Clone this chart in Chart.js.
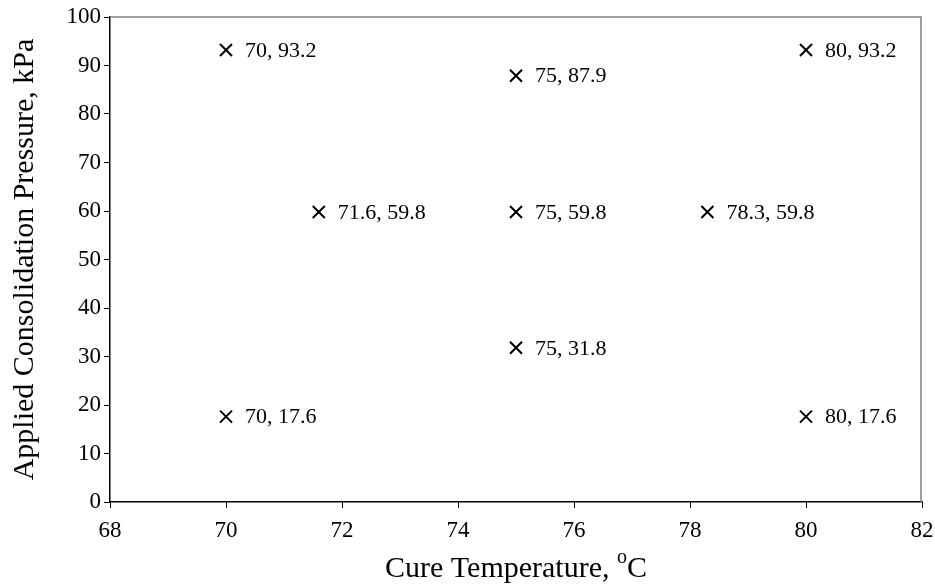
<!DOCTYPE html>
<html>
<head>
<meta charset="utf-8">
<script src="https://cdn.jsdelivr.net/npm/chart.js@4"></script>
<style>
  html, body { margin: 0; padding: 0; background: #fff; }
  #wrap { width: 935px; height: 586px; }
</style>
</head>
<body>
<div id="wrap"><canvas id="chart-canvas" width="935" height="586"></canvas></div>
<script>
// cure trials: temperature (°C) and consolidation pressure (kPa)
const cureTemps = [70, 75, 80, 71.6, 75, 78.3, 75, 70, 80];
const pressures = [93.2, 87.9, 93.2, 59.8, 59.8, 59.8, 31.8, 17.6, 17.6];
const xTicks = [68, 70, 72, 74, 76, 78, 80, 82];
const yTicks = [0, 10, 20, 30, 40, 50, 60, 70, 80, 90, 100];

const serif = "'Liberation Serif', 'Times New Roman', serif";

const points = cureTemps.map((t, i) => ({ x: t, y: pressures[i] }));

// gray frame along top and right of plot area
const frame = {
  id: "frame",
  beforeDatasetsDraw(chart) {
    const { ctx, chartArea: a } = chart;
    ctx.save();
    ctx.strokeStyle = "#808080";
    ctx.lineWidth = 1.5;
    ctx.beginPath();
    ctx.moveTo(a.left, a.top);
    ctx.lineTo(a.right - 1, a.top);
    ctx.lineTo(a.right - 1, a.bottom);
    ctx.stroke();
    ctx.restore();
  }
};

// "x, y" label to the right of each marker
const pointLabels = {
  id: "pointLabels",
  afterDatasetsDraw(chart) {
    const { ctx } = chart;
    const meta = chart.getDatasetMeta(0);
    ctx.save();
    ctx.font = "22px " + serif;
    ctx.fillStyle = "#000";
    ctx.textBaseline = "middle";
    ctx.textAlign = "left";
    meta.data.forEach((el, i) => {
      ctx.fillText(cureTemps[i] + ", " + pressures[i], el.x + 19, el.y + 1);
    });
    ctx.restore();
  }
};

// axis titles; the x title carries a superscript "o" before C
const axisTitles = {
  id: "axisTitles",
  afterDraw(chart) {
    const { ctx, chartArea: a } = chart;
    ctx.save();
    ctx.fillStyle = "#000";
    ctx.textBaseline = "alphabetic";

    const main = "Cure Temperature, ";
    ctx.font = "30px " + serif;
    const w1 = ctx.measureText(main).width;
    const wC = ctx.measureText("C").width;
    ctx.font = "20px " + serif;
    const wo = ctx.measureText("o").width;
    let x = (a.left + a.right) / 2 - (w1 + wo + wC) / 2;
    const base = 577;
    ctx.font = "30px " + serif;
    ctx.fillText(main, x, base);
    x += w1;
    ctx.font = "20px " + serif;
    ctx.fillText("o", x, base - 14);
    x += wo;
    ctx.font = "30px " + serif;
    ctx.fillText("C", x, base);

    ctx.translate(33, (a.top + a.bottom) / 2);
    ctx.rotate(-Math.PI / 2);
    ctx.textAlign = "center";
    ctx.font = "30px " + serif;
    ctx.fillText("Applied Consolidation Pressure, kPa", 0, 0);
    ctx.restore();
  }
};

const config = {
  type: "scatter",
  data: {
    datasets: [{
      label: "Cure trials",
      data: points,
      pointStyle: "crossRot",
      pointRadius: 8.5,
      pointHoverRadius: 8.5,
      borderColor: "#000",
      backgroundColor: "#000",
      borderWidth: 2
    }]
  },
  options: {
    responsive: false,
    animation: false,
    layout: { padding: { top: 17, right: 13, left: 0, bottom: 0 } },
    plugins: {
      legend: { display: false },
      tooltip: { enabled: false }
    },
    scales: {
      x: {
        type: "linear",
        min: 68,
        max: 82,
        afterBuildTicks(scale) { scale.ticks = xTicks.map(v => ({ value: v })); },
        afterFit(scale) {
          scale.height = 84;
          scale.paddingLeft = 0;
          scale.paddingRight = 0;
        },
        border: { color: "#000", width: 1.5 },
        grid: { drawOnChartArea: false, color: "#000", tickLength: 6, tickWidth: 1 },
        ticks: { color: "#000", font: { family: serif, size: 23 }, padding: 9, maxRotation: 0 }
      },
      y: {
        type: "linear",
        min: 0,
        max: 100,
        afterBuildTicks(scale) { scale.ticks = yTicks.map(v => ({ value: v })); },
        afterFit(scale) {
          scale.width = 110;
          scale.paddingTop = 0;
          scale.paddingBottom = 0;
        },
        border: { color: "#000", width: 1.5 },
        grid: { drawOnChartArea: false, color: "#000", tickLength: 6, tickWidth: 1 },
        ticks: { color: "#000", font: { family: serif, size: 23 }, padding: 3 }
      }
    }
  },
  plugins: [frame, pointLabels, axisTitles]
};

const myChart = new Chart(document.getElementById("chart-canvas"), config);
</script>
</body>
</html>
